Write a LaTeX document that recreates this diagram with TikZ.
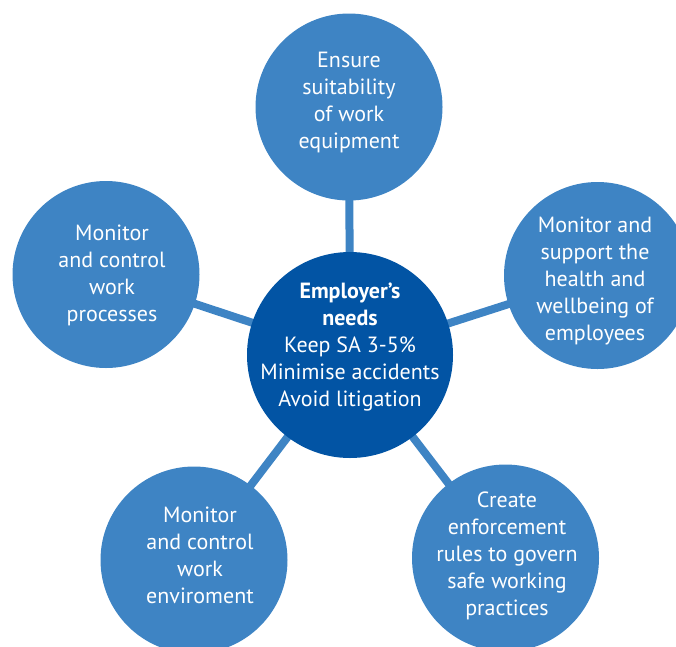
\documentclass[tikz,border=0pt]{standalone}
\usepackage{fontspec}
\setmainfont{PT Sans}
\usetikzlibrary{backgrounds}
\definecolor{outerblue}{RGB}{62,132,196}
\definecolor{centerblue}{RGB}{2,84,164}
\tikzset{
  outercircle/.style={circle, fill=outerblue, draw=none, inner sep=0pt, minimum size=187pt},
  centercircle/.style={circle, fill=centerblue, draw=none, inner sep=0pt, minimum size=206pt},
  conn/.style={draw=outerblue, line width=8pt},
  txt/.style={text=white, align=center, font=\fontsize{22pt}{27pt}\selectfont, inner sep=0pt}
}
\begin{document}
\begin{tikzpicture}[x=1pt,y=-1pt]
\useasboundingbox (0,0) rectangle (676,646);
\clip (0,0) rectangle (676,646);
\node[centercircle] (c) at (350,355) {};
\node[outercircle] (top) at (349,107) {};
\node[outercircle] (left) at (106,274.5) {};
\node[outercircle] (right) at (597.5,275.5) {};
\node[outercircle] (bl) at (194,560) {};
\node[outercircle] (br) at (505.5,558) {};
\begin{pgfonlayer}{background}
\draw[conn] (c.center) -- (top.center);
\draw[conn] (c.center) -- (left.center);
\draw[conn] (c.center) -- (right.center);
\draw[conn] (c.center) -- (bl.center);
\draw[conn] (c.center) -- (br.center);
\end{pgfonlayer}
\node[txt] (tc) at (350,347) {\textbf{Employer’s}\\\textbf{needs}\\Keep SA 3-5\%\\Minimise accidents\\Avoid litigation};
\node[txt] (ttop) at (349,102) {Ensure\\suitability\\of work\\equipment};
\node[txt] (tleft) at (112,275.5) {Monitor\\and control\\work\\processes};
\node[txt] (tright) at (595,281) {Monitor and\\support the\\health and\\wellbeing of\\employees};
\node[txt] (tbl) at (200,555) {Monitor\\and control\\work\\enviroment};
\node[txt] (tbr) at (507,556) {Create\\enforcement\\rules to govern\\safe working\\practices};
\end{tikzpicture}
\end{document}
